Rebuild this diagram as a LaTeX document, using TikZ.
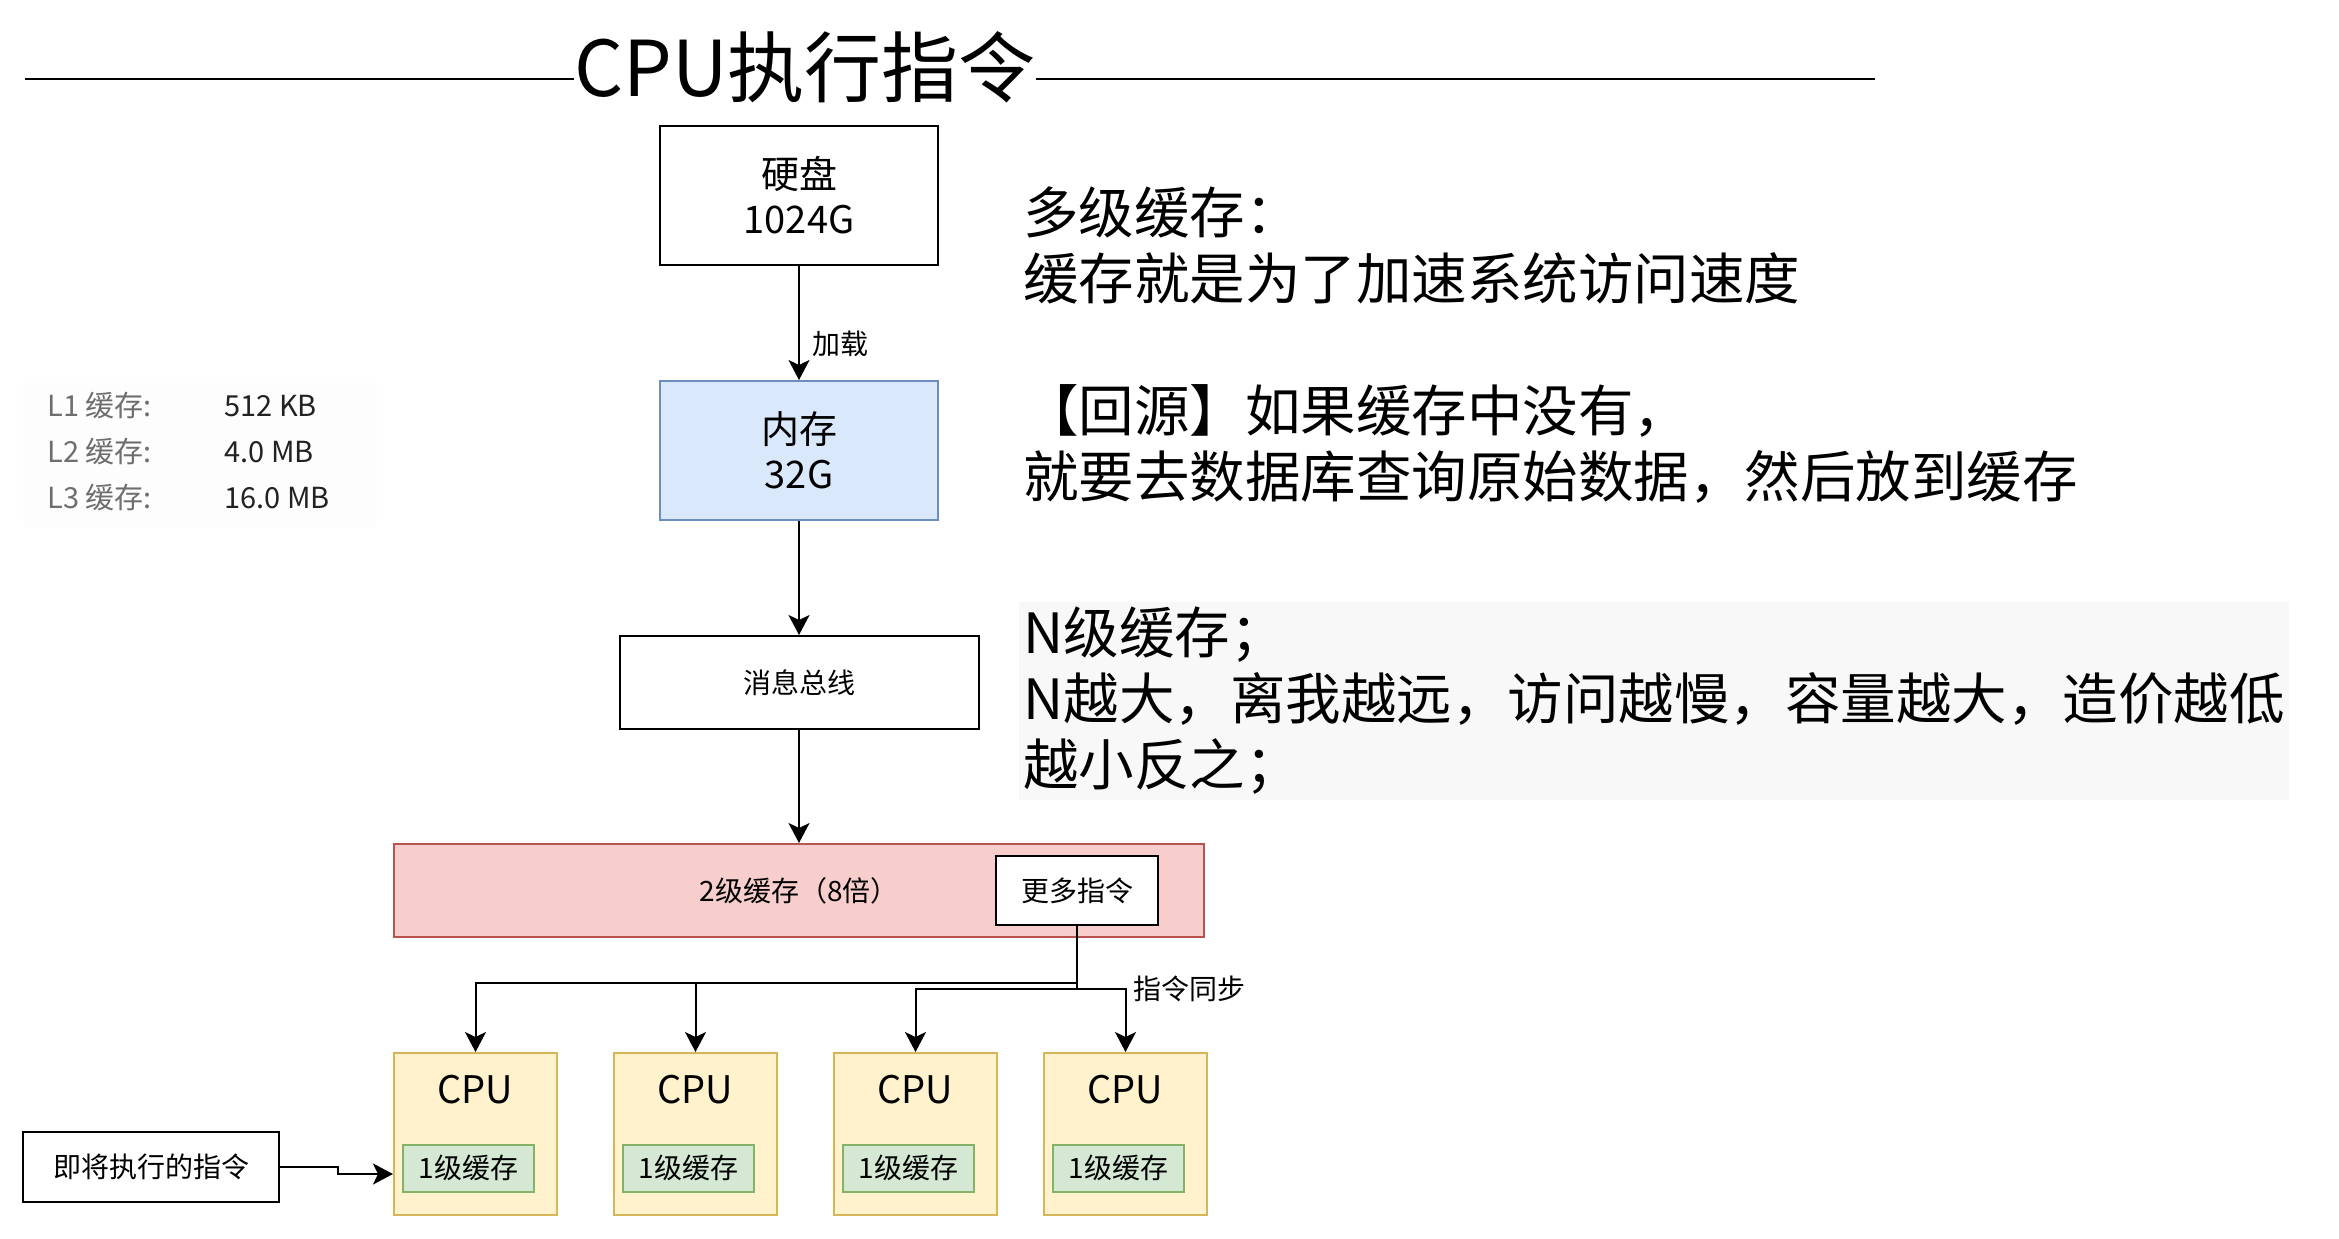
\documentclass[tikz,border=0pt]{standalone}
\usepackage{fontspec}
\setmainfont{Noto Sans CJK SC}
\usepackage{tikz}
\usetikzlibrary{arrows.meta,positioning,fit,backgrounds}
\definecolor{memfill}{HTML}{DAE8FC}
\definecolor{memline}{HTML}{6C8EBF}
\definecolor{ltwofill}{HTML}{F8CECC}
\definecolor{ltwoline}{HTML}{B85450}
\definecolor{corefill}{HTML}{FFF2CC}
\definecolor{coreline}{HTML}{D6B656}
\definecolor{lonefill}{HTML}{D5E8D4}
\definecolor{loneline}{HTML}{82B366}
\definecolor{notebg}{HTML}{F8F8F8}
\definecolor{infobg}{HTML}{FDFDFD}
\definecolor{infokey}{HTML}{6E6E6E}
\definecolor{infoval}{HTML}{222222}
\newcommand{\fontTitle}{\fontsize{38.5}{44}\selectfont}
\newcommand{\fontNote}{\fontsize{27.75}{33}\selectfont}
\newcommand{\fontBox}{\fontsize{19}{22.5}\selectfont}
\newcommand{\fontSmall}{\fontsize{14}{16.5}\selectfont}
\newcommand{\fontInfo}{\fontsize{14.5}{17}\selectfont}
\tikzstyle{unit} = [rectangle, draw=black, line width=1pt, text centered, align=center, font=\fontSmall]
\tikzstyle{store} = [unit, minimum width=139pt, minimum height=69.5pt, font=\fontBox]
\tikzstyle{corebox} = [rectangle, draw=coreline, fill=corefill, line width=1pt, minimum width=81.5pt, minimum height=81pt]
\tikzstyle{lonebox} = [rectangle, draw=loneline, fill=lonefill, line width=1pt, minimum width=65.5pt, minimum height=23.5pt, inner sep=0pt, font=\fontSmall]
\tikzstyle{arrow} = [line width=1pt, -{Stealth[length=10pt, width=10.5pt, inset=2.5pt]}]
\tikzstyle{note} = [anchor=west, inner sep=0pt, align=left, font=\fontNote]
\tikzstyle{info} = [anchor=west, inner sep=0pt, font=\fontInfo]

\begin{document}
\begin{tikzpicture}[x=0.5pt, y=-0.5pt]
\useasboundingbox (0,0) rectangle (2339,1238);

% Title with rule
\node[inner sep=0pt, font=\fontTitle] (title) at (805,67) {CPU执行指令};
\coordinate (rulel) at (25,79);
\coordinate (ruler) at (1875,79);
\draw[line width=1.2pt] (rulel) -- (rulel -| title.west);
\draw[line width=1.2pt] (title.east |- ruler) -- (ruler);

% Cache sizes
\fill[infobg] (23,383) rectangle (377,527);
\node[info, text=infokey] (lonekey) at (47,406) {L1 缓存:};
\node[info, text=infokey] (ltwokey) at (47,452) {L2 缓存:};
\node[info, text=infokey] (lthreekey) at (47,498) {L3 缓存:};
\node[info, text=infoval] (loneval) at (224,406) {512 KB};
\node[info, text=infoval] (ltwoval) at (224,452) {4.0 MB};
\node[info, text=infoval] (lthreeval) at (224,498) {16.0 MB};

% Storage chain
\node[store] (disk) at (799,195.5) {硬盘\\1024G};
\node[store, fill=memfill, draw=memline, below=57pt of disk] (mem) {内存\\32G};
\node[unit, minimum width=179.5pt, minimum height=46.5pt, below=57pt of mem] (bus) {消息总线};
\node[unit, fill=ltwofill, draw=ltwoline, minimum width=405pt, minimum height=46.5pt, below=56.5pt of bus] (ltwo) {2级缓存（8倍）};
\node[unit, fill=white, minimum width=81pt, minimum height=34.5pt, anchor=east] (more) at ([xshift=-23pt]ltwo.east) {更多指令};

\draw[arrow] (disk) -- node[anchor=west, pos=0.68, xshift=3pt, font=\fontSmall] (loadlabel) {加载} (mem);
\draw[arrow] (mem) -- (bus);
\draw[arrow] (bus) -- (ltwo);

% CPUs
\node[corebox, below right=57pt and 0pt of ltwo.south west] (cpua) {};
\node[corebox, right=27.5pt of cpua] (cpub) {};
\node[corebox, right=27.5pt of cpub] (cpuc) {};
\node[corebox, right=22.5pt of cpuc] (cpud) {};
\node[font=\fontBox] (cpuatext) at ([yshift=-19pt]cpua.north) {CPU};
\node[font=\fontBox] (cpubtext) at ([yshift=-19pt]cpub.north) {CPU};
\node[font=\fontBox] (cpuctext) at ([yshift=-19pt]cpuc.north) {CPU};
\node[font=\fontBox] (cpudtext) at ([yshift=-19pt]cpud.north) {CPU};
\node[lonebox] (lonea) at ([xshift=-3.5pt, yshift=-58pt]cpua.north) {1级缓存};
\node[lonebox] (loneb) at ([xshift=-3.5pt, yshift=-58pt]cpub.north) {1级缓存};
\node[lonebox] (lonec) at ([xshift=-3.5pt, yshift=-58pt]cpuc.north) {1级缓存};
\node[lonebox] (loned) at ([xshift=-3.5pt, yshift=-58pt]cpud.north) {1级缓存};

% Sync to cores
\draw[arrow] (more.south) -- ++(0,-28.5pt) -| (cpua.north);
\draw[arrow] (more.south) -- ++(0,-28.5pt) -| (cpub.north);
\draw[arrow] (more.south) -- ++(0,-31.5pt) -| (cpuc.north);
\draw[arrow] (more.south) -- ++(0,-31.5pt) -| node[pos=0.5, anchor=west, font=\fontSmall] (synclabel) {指令同步} (cpud.north);

% Next instruction
\node[unit, minimum width=128pt, minimum height=35pt] (next) at (151,1167) {即将执行的指令};
\draw[arrow] (next.east) -- ++(29pt,0) |- ([yshift=-20pt]cpua.west);

% Notes
\node[note] (notemulti) at (1023,245) {多级缓存：\\缓存就是为了加速系统访问速度};
\node[note] (noteorigin) at (1023,443.5) {【回源】如果缓存中没有，\\就要去数据库查询原始数据，然后放到缓存};
\node[note] (notelevel) at (1023,701) {N级缓存；\\N越大，离我越远，访问越慢，容量越大，造价越低\\越小反之；};
\begin{scope}[on background layer]
\node[fit=(notelevel), fill=notebg, inner xsep=2pt, inner ysep=2.5pt] (notelevelbg) {};
\end{scope}
\end{tikzpicture}
\end{document}
